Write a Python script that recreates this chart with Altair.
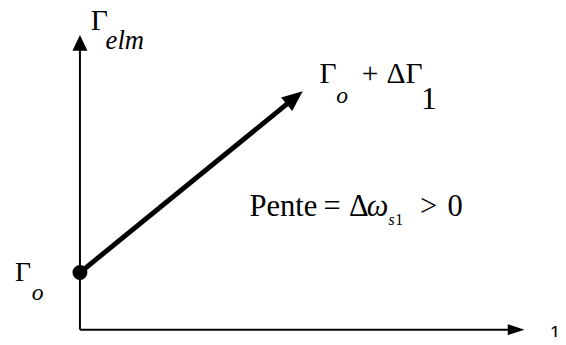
import math
import altair as alt
import pandas as pd

# ---- diagram values (origin = corner of the axes; 1 unit ~ 1 px) ----
t_axis_end = 451          # tip of the horizontal (t) axis
gamma_axis_end = 299      # tip of the vertical (Gamma_elm) axis
gamma_o = 58              # starting value Gamma_o
arrow_tip_t = 226         # end of the Gamma_o + dGamma_1 arrow
arrow_tip_g = 242

# text pieces: text, x, baseline y, font size
serif_txt = ["Γ", "Γ", "+", "ΔΓ", "1", "Γ", "Pente", "=", "Δ", "1", ">", "0"]
serif_x = [11, 243, 286, 311, 346, -66, 172, 247, 273, 320, 345, 373]
serif_y = [304, 250, 250, 250, 224, 49, 115, 115, 115, 106, 115, 115]
serif_fs = [30, 30, 30, 30, 32, 28, 31, 31, 31, 16, 31, 31]

ital_txt = ["elm", "o", "o", "ω", "s"]
ital_x = [26, 260, -49, 291, 313]
ital_y = [285, 230, 30, 115, 106]
ital_fs = [27, 24, 24, 31, 16]

sans_txt = ["1"]
sans_x = [477]
sans_y = [-9]
sans_fs = [19]

SERIF = "Liberation Serif"
SANS = "Liberation Sans"

# ---- scales mapping the diagram onto the page ----
W, H = 558, 329
xs = alt.Scale(domain=[-73, -73 + W], nice=False, zero=False)
ys = alt.Scale(domain=[-5, 324], nice=False, zero=False)


def X(f):
    return alt.X(f, type="quantitative", scale=xs, axis=None)


def Y(f):
    return alt.Y(f, type="quantitative", scale=ys, axis=None)


# axis lines (stop just before the arrow heads)
axes_df = pd.DataFrame({
    "x": [0, 0], "y": [0, 0],
    "x2": [t_axis_end - 12, 0], "y2": [0, gamma_axis_end - 12],
})
axes = alt.Chart(axes_df).mark_rule(color="black", strokeWidth=2).encode(
    x=X("x"), y=Y("y"), x2="x2", y2="y2")

# main arrow
dx, dy = arrow_tip_t - 0, arrow_tip_g - gamma_o
L = math.hypot(dx, dy)
ux, uy = dx / L, dy / L
arrow_df = pd.DataFrame({"x": [0], "y": [gamma_o],
                         "x2": [arrow_tip_t - 14 * ux], "y2": [arrow_tip_g - 14 * uy]})
arrow = alt.Chart(arrow_df).mark_rule(color="black", strokeWidth=5).encode(
    x=X("x"), y=Y("y"), x2="x2", y2="y2")

# arrow heads
ang_diag = (360 - math.degrees(math.atan2(dy, dx))) % 360
head_x = alt.Chart(pd.DataFrame({"x": [t_axis_end], "y": [0]})).mark_point(
    shape="M0,0 L-2,-0.65 L-2,0.65 Z", filled=True, fill="black", opacity=1,
    strokeWidth=0, size=289, angle=0).encode(x=X("x"), y=Y("y"))
head_y = alt.Chart(pd.DataFrame({"x": [0], "y": [gamma_axis_end]})).mark_point(
    shape="M0,0 L-2,-0.95 L-2,0.95 Z", filled=True, fill="black", opacity=1,
    strokeWidth=0, size=256, angle=270).encode(x=X("x"), y=Y("y"))
head_d = alt.Chart(pd.DataFrame({"x": [arrow_tip_t], "y": [arrow_tip_g]})).mark_point(
    shape="M0,0 L-2,-0.85 L-2,0.85 Z", filled=True, fill="black", opacity=1,
    strokeWidth=0, size=441, angle=ang_diag).encode(x=X("x"), y=Y("y"))

# starting dot
dot = alt.Chart(pd.DataFrame({"x": [0], "y": [gamma_o]})).mark_circle(
    color="black", opacity=1, size=230).encode(x=X("x"), y=Y("y"))


def text_layers(txt, x, y, fs, font, style=None):
    df = pd.DataFrame({"t": txt, "x": x, "y": y, "fs": fs})
    out = []
    for size, sub in df.groupby("fs"):
        kw = dict(align="left", baseline="alphabetic", font=font,
                  fontSize=float(size), color="black")
        if style:
            kw["fontStyle"] = style
        out.append(alt.Chart(sub).mark_text(**kw).encode(
            x=X("x"), y=Y("y"), text="t:N"))
    return out


layers = [axes, arrow, head_x, head_y, head_d, dot]
layers += text_layers(serif_txt, serif_x, serif_y, serif_fs, SERIF)
layers += text_layers(ital_txt, ital_x, ital_y, ital_fs, SERIF, "italic")
layers += text_layers(sans_txt, sans_x, sans_y, sans_fs, SANS)

chart = alt.layer(*layers).properties(
    width=W, height=H, padding=0, autosize=alt.AutoSizeParams(type="none"),
    background="white",
).configure_view(strokeWidth=0)

chart.save("out.html", embed_options={"renderer": "svg", "actions": False})
